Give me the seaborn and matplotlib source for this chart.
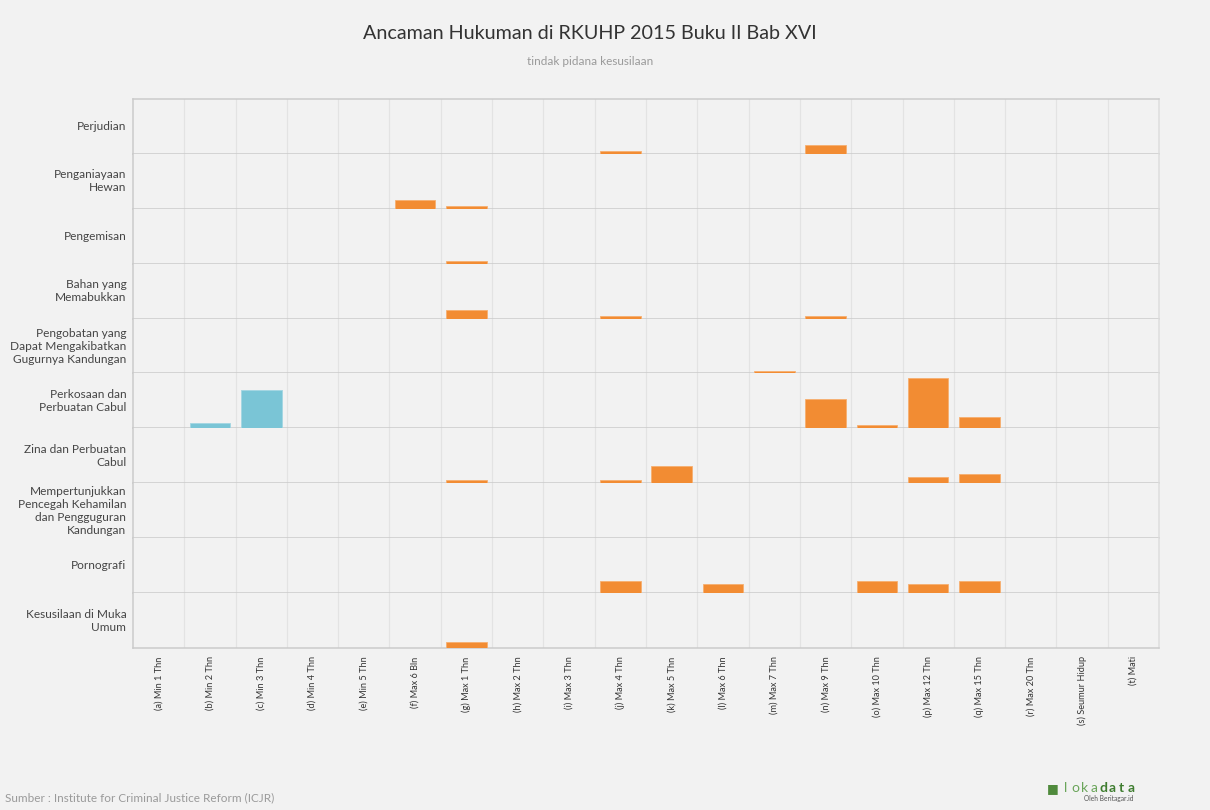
import matplotlib
matplotlib.use("Agg")
import matplotlib.pyplot as plt
import matplotlib.colors as mcolors
import numpy as np
import pandas as pd
import seaborn as sns

# --------------------------------------------------------------------------- #
# Data
# --------------------------------------------------------------------------- #
penalties = [
    "(a) Min 1 Thn", "(b) Min 2 Thn", "(c) Min 3 Thn", "(d) Min 4 Thn",
    "(e) Min 5 Thn", "(f) Max 6 Bln", "(g) Max 1 Thn", "(h) Max 2 Thn",
    "(i) Max 3 Thn", "(j) Max 4 Thn", "(k) Max 5 Thn", "(l) Max 6 Thn",
    "(m) Max 7 Thn", "(n) Max 9 Thn", "(o) Max 10 Thn", "(p) Max 12 Thn",
    "(q) Max 15 Thn", "(r) Max 20 Thn", "(s) Seumur Hidup", "(t) Mati",
]

offences = [
    "Perjudian",
    "Penganiayaan\nHewan",
    "Pengemisan",
    "Bahan yang\nMemabukkan",
    "Pengobatan yang\nDapat Mengakibatkan\nGugurnya Kandungan",
    "Perkosaan dan\nPerbuatan Cabul",
    "Zina dan Perbuatan\nCabul",
    "Mempertunjukkan\nPencegah Kehamilan\ndan Pengguguran\nKandungan",
    "Pornografi",
    "Kesusilaan di Muka\nUmum",
]

#                a  b  c   d  e  f  g  h  i  j  k  l  m  n   o  p   q  r  s  t
perjudian     = [0, 0, 0,  0, 0, 0, 0, 0, 0, 1, 0, 0, 0, 3,  0, 0,  0, 0, 0, 0]
penganiayaan  = [0, 0, 0,  0, 0, 3, 1, 0, 0, 0, 0, 0, 0, 0,  0, 0,  0, 0, 0, 0]
pengemisan    = [0, 0, 0,  0, 0, 0, 1, 0, 0, 0, 0, 0, 0, 0,  0, 0,  0, 0, 0, 0]
memabukkan    = [0, 0, 0,  0, 0, 0, 3, 0, 0, 1, 0, 0, 0, 1,  0, 0,  0, 0, 0, 0]
pengobatan    = [0, 0, 0,  0, 0, 0, 0, 0, 0, 0, 0, 0, 1, 0,  0, 0,  0, 0, 0, 0]
perkosaan     = [0, 2, 13, 0, 0, 0, 0, 0, 0, 0, 0, 0, 0, 10, 1, 17, 4, 0, 0, 0]
zina          = [0, 0, 0,  0, 0, 0, 1, 0, 0, 1, 6, 0, 0, 0,  0, 2,  3, 0, 0, 0]
pencegah      = [0, 0, 0,  0, 0, 0, 0, 0, 0, 0, 0, 0, 0, 0,  0, 0,  0, 0, 0, 0]
pornografi    = [0, 0, 0,  0, 0, 0, 0, 0, 0, 4, 0, 3, 0, 0,  4, 3,  4, 0, 0, 0]
muka_umum     = [0, 0, 0,  0, 0, 0, 2, 0, 0, 0, 0, 0, 0, 0,  0, 0,  0, 0, 0, 0]

counts = [perjudian, penganiayaan, pengemisan, memabukkan, pengobatan,
          perkosaan, zina, pencegah, pornografi, muka_umum]

BG = "#f2f2f2"
PALETTE = {"Min": "#7ac5d6", "Max": "#f28c33"}

rows = []
for offence, values in zip(offences, counts):
    for penalty, v in zip(penalties, values):
        rows.append({
            "tindak": offence,
            "hukuman": penalty,
            "jumlah": v,
            "jenis": "Min" if " Min " in penalty else "Max",
        })
df = pd.DataFrame(rows)

# --------------------------------------------------------------------------- #
# Plot
# --------------------------------------------------------------------------- #
sns.set_theme(style="white")
plt.rcParams["font.family"] = ["Lato", "DejaVu Sans"]

fig, axes = plt.subplots(
    len(offences), 1, figsize=(12.1, 8.1), dpi=100, sharex=True, sharey=True,
    gridspec_kw={"hspace": 0},
)
fig.patch.set_facecolor(BG)
fig.subplots_adjust(left=0.1099, right=0.9579, top=0.8778, bottom=0.2)

for i, (ax, offence) in enumerate(zip(axes, offences)):
    sub = df[df["tindak"] == offence]
    sns.barplot(
        data=sub, x="hukuman", y="jumlah", hue="jenis", order=penalties,
        palette=PALETTE, saturation=1, dodge=False, width=0.79, legend=False,
        ax=ax, linewidth=0.6,
    )
    for p in ax.patches:
        if p.get_height() <= 0:
            p.set_visible(False)
            continue
        fc = np.array(mcolors.to_rgb(p.get_facecolor()))
        p.set_edgecolor(fc + (1 - fc) * 0.3)
        p.set_alpha(1)
        p.set_zorder(3)

    ax.set_facecolor(BG)
    ax.set_xlim(-0.5, len(penalties) - 0.5)
    ax.set_ylim(0, 18.7)
    ax.set_ylabel("")
    ax.set_xlabel("")
    ax.set_yticks([])
    ax.set_xticks(np.arange(0.5, len(penalties) - 0.5, 1), minor=True)
    ax.grid(which="minor", axis="x", color="#e3e3e3", linewidth=0.9)
    ax.set_axisbelow(True)
    ax.tick_params(axis="x", which="both", length=0)

    for side in ["left", "bottom", "right", "top"]:
        ax.spines[side].set_color("#cbcbcb")
        ax.spines[side].set_linewidth(1.1)
    ax.spines["top"].set_visible(i == 0)
    ax.spines["right"].set_color("#dedede")

    ax.text(-0.0065, 0.5, offence, transform=ax.transAxes, ha="right",
            va="center", fontsize=8.6, color="#454545", linespacing=1.22)

bottom_ax = axes[-1]
bottom_ax.set_xticks(range(len(penalties)))
bottom_ax.set_xticklabels(penalties, rotation=90, fontsize=6.6,
                          color="#333333", va="top", ha="center")
bottom_ax.tick_params(axis="x", pad=6)

fig.text(0.4876, 0.959, "Ancaman Hukuman di RKUHP 2015 Buku II Bab XVI",
         ha="center", va="center", fontsize=14.2, color="#333333")
fig.text(0.4876, 0.924, "tindak pidana kesusilaan", ha="center", va="center",
         fontsize=8.5, color="#9a9a9a")
fig.text(0.004, 0.015, "Sumber : Institute for Criminal Justice Reform (ICJR)",
         ha="left", va="center", fontsize=8.5, color="#9a9a9a")

# lokadata logo, approximated with spaced letters
fig.text(1047 / 1210, 1 - 788 / 810, "\u25A0", ha="left", va="center",
         fontsize=9, color="#4f8a3c")
for k, ch in enumerate("lokadata"):
    fig.text((1066 + k * 9.3) / 1210, 1 - 788 / 810, ch, ha="center",
             va="center", fontsize=10,
             color="#6aa55a" if k < 4 else "#3f7d30",
             fontweight="normal" if k < 4 else "bold")
fig.text(1133 / 1210, 1 - 799 / 810, "Oleh Beritagar.id", ha="right",
         va="center", fontsize=4.8, color="#555555")

fig.savefig("out.png", dpi=100, facecolor=BG)
